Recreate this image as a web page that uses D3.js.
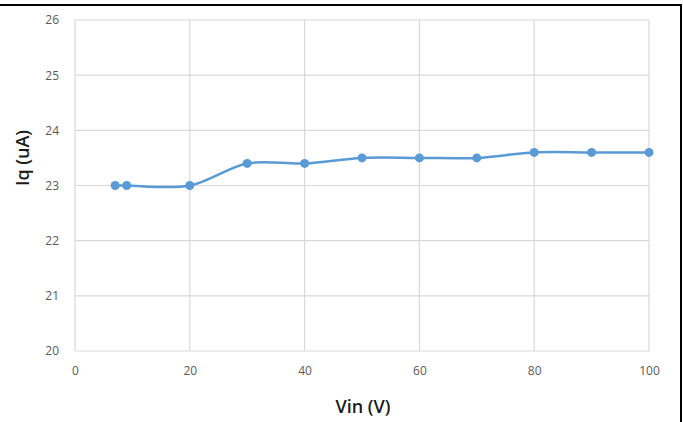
<!DOCTYPE html>
<html><head><meta charset="utf-8">
<script src="https://cdn.jsdelivr.net/npm/d3@7"></script>
<style>body{margin:0;background:#fff}svg{display:block}</style>
</head><body>
<svg id="c" width="683" height="422"></svg>
<script>
const vin = [7, 9, 20, 30, 40, 50, 60, 70, 80, 90, 100];
const iq = [23.0, 23.0, 23.0, 23.4, 23.4, 23.5, 23.5, 23.5, 23.6, 23.6, 23.6];
const xTicks = [0, 20, 40, 60, 80, 100];
const yTicks = [20, 21, 22, 23, 24, 25, 26];

const svg = d3.select("#c");
const x = d3.scaleLinear().domain([0, 100]).range([75, 649]);
const y = d3.scaleLinear().domain([20, 26]).range([351, 20]);

// frame lines (top and right)
svg.append("line").attr("x1", 0).attr("x2", 682).attr("y1", 5).attr("y2", 5).attr("stroke", "#000").attr("stroke-width", 2);
svg.append("line").attr("x1", 681).attr("x2", 681).attr("y1", 4).attr("y2", 422).attr("stroke", "#000").attr("stroke-width", 2);

// grid
const g = svg.append("g");
g.selectAll(".gy").data(yTicks).join("line")
  .attr("x1", x(0)).attr("x2", x(100)).attr("y1", d => y(d)).attr("y2", d => y(d))
  .attr("stroke", "#d9d9d9").attr("stroke-width", 1.2);
g.selectAll(".gx").data(xTicks).join("line")
  .attr("x1", d => x(d)).attr("x2", d => x(d)).attr("y1", y(20)).attr("y2", y(26))
  .attr("stroke", "#d9d9d9").attr("stroke-width", 1.2);

// axes labels via d3 axes
const yAxis = svg.append("g").attr("transform", `translate(${x(0)},0)`)
  .call(d3.axisLeft(y).tickValues(yTicks).tickSize(0).tickPadding(16).tickFormat(d3.format("d")));
yAxis.select(".domain").remove();
yAxis.selectAll("text").attr("fill", "#595959").style("font-family", "Open Sans, sans-serif").style("font-size", "12px");

const xAxis = svg.append("g").attr("transform", `translate(0,${y(20)})`)
  .call(d3.axisBottom(x).tickValues(xTicks).tickSize(0).tickPadding(15).tickFormat(d3.format("d")));
xAxis.select(".domain").remove();
xAxis.selectAll("text").attr("fill", "#595959").style("font-family", "Open Sans, sans-serif").style("font-size", "12px");

// titles
svg.append("text").attr("x", 363).attr("y", 413).attr("text-anchor", "middle")
  .style("font-family", "Open Sans, sans-serif").style("font-size", "18px").style("font-weight", "600")
  .attr("fill", "#1a1a1a").text("Vin (V)");
svg.append("text").attr("transform", `translate(29,158) rotate(-90)`).attr("text-anchor", "middle")
  .style("font-family", "Open Sans, sans-serif").style("font-size", "18px").style("font-weight", "600")
  .attr("fill", "#1a1a1a").text("Iq (uA)");

// line
const data = vin.map((v, i) => [v, iq[i]]);
svg.append("path").datum(data)
  .attr("d", d3.line().x(d => x(d[0])).y(d => y(d[1])).curve(d3.curveCatmullRom.alpha(0.5)))
  .attr("fill", "none").attr("stroke", "#5b9bd5").attr("stroke-width", 2.5);
svg.selectAll(".pt").data(data).join("circle")
  .attr("cx", d => x(d[0])).attr("cy", d => y(d[1])).attr("r", 4.5).attr("fill", "#5b9bd5");
</script>
</body></html>
